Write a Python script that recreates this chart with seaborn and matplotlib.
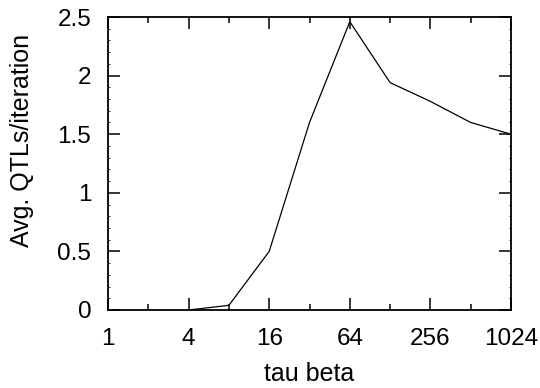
import matplotlib
matplotlib.use("Agg")
import matplotlib.pyplot as plt
import seaborn as sns
import pandas as pd
from matplotlib.ticker import FixedLocator, FixedFormatter, NullFormatter, MultipleLocator

tau_beta = [4, 8, 16, 32, 64, 128, 256, 512, 1024]
qtls = [0.0, 0.04, 0.5, 1.6, 2.46, 1.94, 1.78, 1.6, 1.5]
xticks = [1, 4, 16, 64, 256, 1024]
xtick_labels = ["1", "4", "16", "64", "256", "1024"]
xminor = [2, 8, 32, 128, 512]
yticks = [0, 0.5, 1, 1.5, 2, 2.5]
ytick_labels = ["0", "0.5", "1", "1.5", "2", "2.5"]

sns.set_theme(style="ticks")
plt.rcParams['font.family'] = ['Liberation Sans', 'DejaVu Sans']

df = pd.DataFrame({"tau beta": tau_beta, "qtl": qtls})

FS = 17.5
L, R, T, B = 108, 511, 17, 310
fig = plt.figure(figsize=(5.4, 3.88), dpi=100)
ax = fig.add_axes([L/540, 1-B/388, (R-L)/540, (B-T)/388])
sns.lineplot(data=df, x="tau beta", y="qtl", ax=ax, color="black", linewidth=0.9)
ax.set_xscale("log", base=2)
ax.set_xlim(1, 1024)
ax.set_ylim(0, 2.5)
ax.xaxis.set_major_locator(FixedLocator(xticks))
ax.xaxis.set_major_formatter(FixedFormatter(xtick_labels))
ax.xaxis.set_minor_locator(FixedLocator(xminor))
ax.xaxis.set_minor_formatter(NullFormatter())
ax.yaxis.set_major_locator(FixedLocator(yticks))
ax.yaxis.set_major_formatter(FixedFormatter(ytick_labels))
ax.yaxis.set_minor_locator(MultipleLocator(0.1))
ax.tick_params(which="both", direction="in", top=True, right=True, color="black", labelsize=FS, width=1.1, labelcolor="black")
ax.tick_params(which="major", length=8.5)
ax.tick_params(axis="x", which="major", pad=13)
ax.tick_params(axis="y", which="major", pad=12)
ax.tick_params(axis="x", which="minor", length=4.3)
ax.tick_params(axis="y", which="minor", length=1.2, width=0.6)
for s in ax.spines.values():
    s.set_color("black")
    s.set_linewidth(1.3)
    s.set_visible(True)
ax.set_xlabel("tau beta", fontsize=FS + 0.5, color="black")
ax.set_ylabel("Avg. QTLs/iteration", fontsize=FS + 0.5, color="black")
ax.xaxis.set_label_coords(0.5, -0.178)
ax.yaxis.set_label_coords(-0.183, 0.58)
fig.savefig("out.png", dpi=100)
